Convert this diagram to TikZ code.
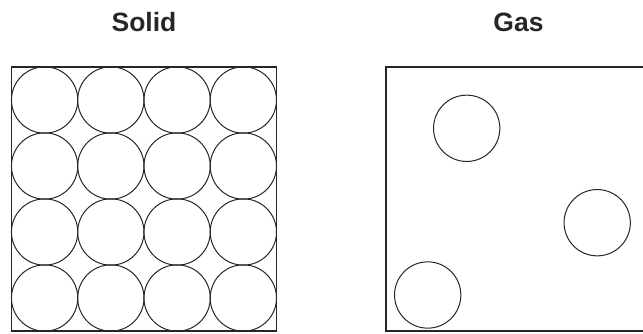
\documentclass[tikz,border=0pt]{standalone}
\usepackage{fontspec}
\setmainfont{Liberation Sans}
\begin{document}
\begin{tikzpicture}[x=1pt,y=-1pt,
  boxline/.style={draw=black!85,line width=1.6pt},
  ball/.style={circle,draw=black!85,line width=1pt,minimum size=66.3pt,inner sep=0pt},
  title/.style={font=\bfseries\fontsize{26.5}{30}\selectfont,text=black!85,anchor=base}]
\useasboundingbox (0,0) rectangle (643,333);
\begin{scope}
\clip (0,0) rectangle (643,333);
\node[title] (tsolid) at (144,31.5) {Solid};
\node[title] (tgas) at (518.5,31.5) {Gas};
\draw[boxline] (11.5,67) rectangle (276.5,331);
\foreach \i in {0,...,3}{
  \foreach \j in {0,...,3}{
    \node[ball] (s\i\j) at ({44.6+66.25*\i},{100+66*\j}) {};
  }
}
\draw[boxline] (386,67) rectangle (651,331);
\node[ball] (g1) at (466.7,128.3) {};
\node[ball] (g2) at (597.2,222.7) {};
\node[ball] (g3) at (427.7,295) {};
\end{scope}
\end{tikzpicture}
\end{document}
